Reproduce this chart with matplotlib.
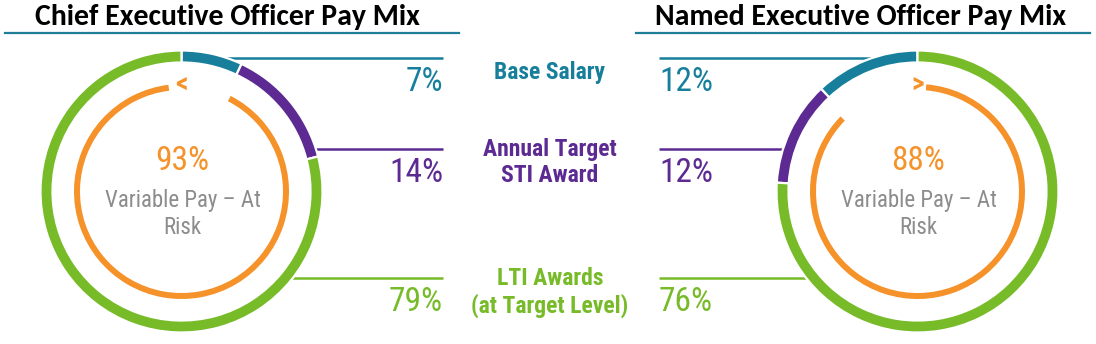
import matplotlib
matplotlib.use("Agg")
import matplotlib.pyplot as plt
from matplotlib.patches import Wedge
import numpy as np

# ---- data ----
categories = ["Base Salary", "Annual Target\nSTI Award", "LTI Awards\n(at Target Level)"]
ceo_title = "Chief Executive Officer Pay Mix"
neo_title = "Named Executive Officer Pay Mix"
ceo_values = [7, 14, 79]
neo_values = [12, 12, 76]
ceo_variable = 93
neo_variable = 88
center_label = "Variable Pay \u2013 At\nRisk"

# ---- style ----
W, H = 1096, 344
seg_colors = ["#177f9c", "#5c2a92", "#77bb29"]
orange = "#f5922a"
gray = "#8c8c8c"
teal_line = "#1f7d97"
narrow = ["Roboto Condensed", "DejaVu Sans"]
title_font = ["Carlito", "DejaVu Sans"]

fig = plt.figure(figsize=(W / 100, H / 100), dpi=100)
ax = fig.add_axes([0, 0, 1, 1])
ax.set_xlim(0, W)
ax.set_ylim(0, H)
ax.axis("off")

def Y(y):
    return H - y

R_OUT, RING_W = 141, 12
R_IN, IN_W = 107.5, 6
CY = 191.5


def donut(cx, values, clockwise, variable, line_ys, pct_x, pct_ha):
    cum = 0
    for v, c in zip(values, seg_colors):
        a0 = cum * 3.6
        a1 = (cum + v) * 3.6
        if clockwise:
            t1, t2 = 90 - a1, 90 - a0
        else:
            t1, t2 = 90 + a0, 90 + a1
        ax.add_patch(Wedge((cx, Y(CY)), R_OUT, t1, t2, width=RING_W,
                           facecolor=c, edgecolor="white", lw=1.6, zorder=3))
        cum += v
    fixed = 100 - variable
    if clockwise:
        t1 = 97
        t2 = 90 - fixed * 3.6 - 2 + 360
        arrow_ch = "<"
    else:
        t1 = 90 + fixed * 3.6 + 2.5
        t2 = 85.3 + 360
        arrow_ch = ">"
    ax.add_patch(Wedge((cx, Y(CY)), R_IN, t1, t2, width=IN_W,
                       facecolor=orange, edgecolor="none", zorder=3))
    ax.text(cx, Y(84), arrow_ch, color=orange, fontsize=20, fontweight="bold",
            ha="center", va="center", family=narrow, zorder=4)
    # centre labels
    ax.text(cx + 1, Y(161), f"{variable}%", color=orange, fontsize=24,
            ha="center", va="center", family=narrow)
    ax.text(cx + 1, Y(214), center_label, color=gray, fontsize=16.5,
            ha="center", va="center", family=narrow, linespacing=1.25)
    # leader lines and percentages
    for v, c, (ly, ty) in zip(values, seg_colors, line_ys):
        dy = CY - ly
        dx = np.sqrt(R_OUT ** 2 - dy ** 2) - 3
        if clockwise:
            xs = [cx + dx, pct_x]
        else:
            xs = [pct_x, cx - dx]
        ax.plot(xs, [Y(ly), Y(ly)], color=c, lw=1.8, zorder=2,
                solid_capstyle="butt")
        ax.text(pct_x, Y(ty), f"{v}%", color=c, fontsize=24, ha=pct_ha,
                va="center", family=narrow)


line_ys = [(58, 82), (149, 173), (278, 302)]

donut(181.5, ceo_values, True, ceo_variable, line_ys, 443, "right")
donut(917.5, neo_values, False, neo_variable, line_ys, 659, "left")

# titles
ax.text(227, Y(17), ceo_title, fontsize=21.5, fontweight="bold", family=title_font,
        ha="center", va="center", color="black")
ax.text(861, Y(17), neo_title, fontsize=21.5, fontweight="bold", family=title_font,
        ha="center", va="center", color="black")
ax.plot([5, 459], [Y(33), Y(33)], color=teal_line, lw=1.6)
ax.plot([636, 1090], [Y(33), Y(33)], color=teal_line, lw=1.6)

# middle category labels
label_ys = [72, 162.5, 292.5]
for lab, c, ly in zip(categories, seg_colors, label_ys):
    ax.text(550, Y(ly), lab, color=c, fontsize=17, fontweight="bold",
            ha="center", va="center", family=narrow, linespacing=1.2)

fig.savefig("out.png", dpi=100, facecolor="white")
